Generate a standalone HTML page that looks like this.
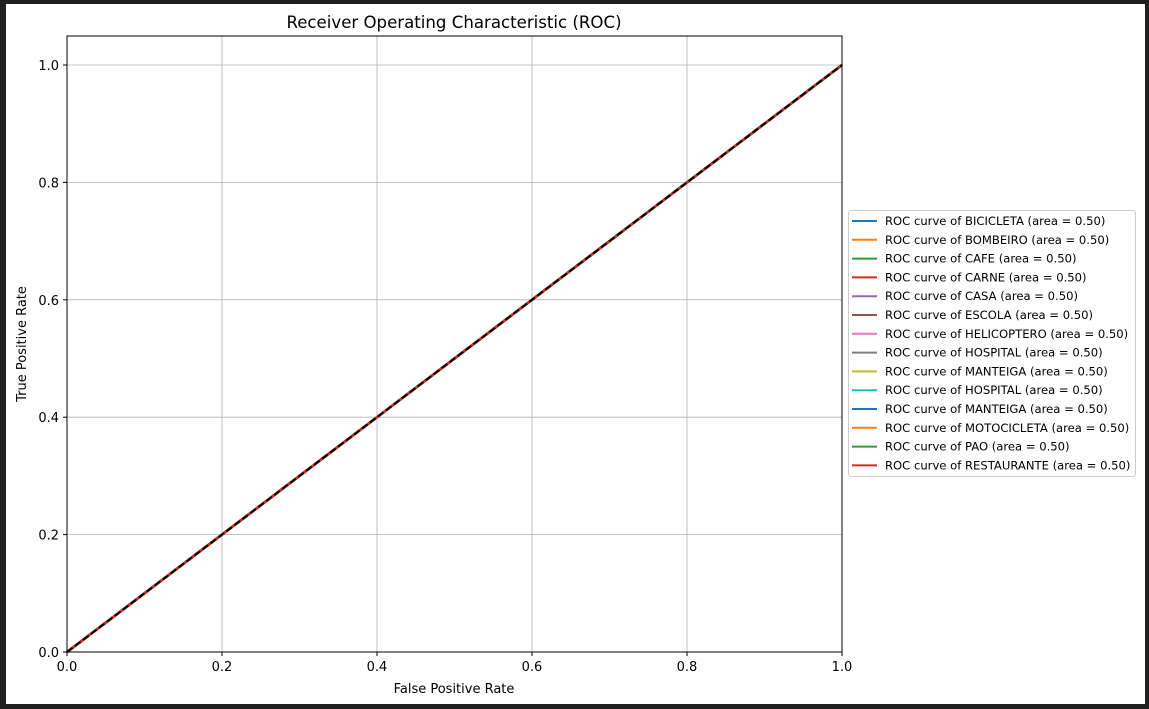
<!DOCTYPE html>
<html><head><meta charset="utf-8"><style>
body{margin:0;background:#1f1f1f;width:1149px;height:709px;overflow:hidden}
svg{position:absolute;left:0;top:0}
text{font-family:"DejaVu Sans","Liberation Sans",sans-serif}
</style></head><body>
<svg width="1149" height="709">
<rect x="6" y="4" width="1139" height="700" fill="#fff"/>
<g id="grid"></g>
<g id="series"></g>
<rect x="67" y="36" width="775" height="616" fill="none" stroke="#000" stroke-width="1"/>
<g id="ticks"></g>
<text x="454" y="28" font-size="16.6" text-anchor="middle">Receiver Operating Characteristic (ROC)</text>
<text x="454" y="693" font-size="13" text-anchor="middle">False Positive Rate</text>
<text x="26" y="344" font-size="13" text-anchor="middle" transform="rotate(-90 26 344)">True Positive Rate</text>
<g id="legend"></g>
</svg>
<script>
const classes=["BICICLETA","BOMBEIRO","CAFE","CARNE","CASA","ESCOLA","HELICOPTERO","HOSPITAL","MANTEIGA","HOSPITAL","MANTEIGA","MOTOCICLETA","PAO","RESTAURANTE"];
const aucs=[0.50,0.50,0.50,0.50,0.50,0.50,0.50,0.50,0.50,0.50,0.50,0.50,0.50,0.50];
const fprs=[[0,1],[0,1],[0,1],[0,1],[0,1],[0,1],[0,1],[0,1],[0,1],[0,1],[0,1],[0,1],[0,1],[0,1]];
const tprs=[[0,1],[0,1],[0,1],[0,1],[0,1],[0,1],[0,1],[0,1],[0,1],[0,1],[0,1],[0,1],[0,1],[0,1]];
const xTicks=[0,0.2,0.4,0.6,0.8,1.0];
const yTicks=[0,0.2,0.4,0.6,0.8,1.0];
const colors=["#1f77b4","#ff7f0e","#2ca02c","#d62728","#9467bd","#8c564b","#e377c2","#7f7f7f","#bcbd22","#17becf"];
const NS="http://www.w3.org/2000/svg";
const X=v=>67+v*775, Y=v=>652-v*587;
function mk(t,a,p){const e=document.createElementNS(NS,t);for(const k in a)e.setAttribute(k,a[k]);p.appendChild(e);return e;}
const grid=document.getElementById('grid'),ticks=document.getElementById('ticks'),ser=document.getElementById('series'),leg=document.getElementById('legend');
xTicks.forEach(v=>{
 const g=mk('line',{x1:X(v),x2:X(v),y1:36,y2:652,stroke:'#b0b0b0','stroke-width':0.8},grid);
 
 mk('line',{x1:X(v),x2:X(v),y1:652,y2:656,stroke:'#000'},ticks);
 const t=mk('text',{x:X(v),y:671,'font-size':13,'text-anchor':'middle'},ticks);t.textContent=v.toFixed(1);
 
});
yTicks.forEach(v=>{
 const g=mk('line',{x1:67,x2:842,y1:Y(v),y2:Y(v),stroke:'#b0b0b0','stroke-width':0.8},grid);
 
 mk('line',{x1:63,x2:67,y1:Y(v),y2:Y(v),stroke:'#000'},ticks);
 const t=mk('text',{x:59,y:Y(v)+5,'font-size':13,'text-anchor':'end'},ticks);t.textContent=v.toFixed(1);
 
});
classes.forEach((c,i)=>{
 const pts=fprs[i].map((f,j)=>X(f)+','+Y(tprs[i][j])).join(' ');
 const p=mk('polyline',{points:pts,fill:'none',stroke:colors[i%10],'stroke-width':2.5},ser);
 
});
const d=mk('line',{x1:X(0),y1:Y(0),x2:X(1),y2:Y(1),stroke:'#000','stroke-width':2,'stroke-dasharray':'7,3'},ser);

const lb=mk('rect',{x:848.5,y:210.5,width:287,height:266,rx:3,fill:'#fff',stroke:'#ccc'},leg);

classes.forEach((c,i)=>{
 const y=221+i*18.8;
 const g=mk('g',{},leg);
 
 mk('line',{x1:852,x2:877,y1:y,y2:y,stroke:colors[i%10],'stroke-width':2},g);
 const t=mk('text',{x:885,y:y+4,'font-size':11.6},g);t.textContent='ROC curve of '+c+' (area = '+aucs[i].toFixed(2)+')';
});
</script>
</body></html>
